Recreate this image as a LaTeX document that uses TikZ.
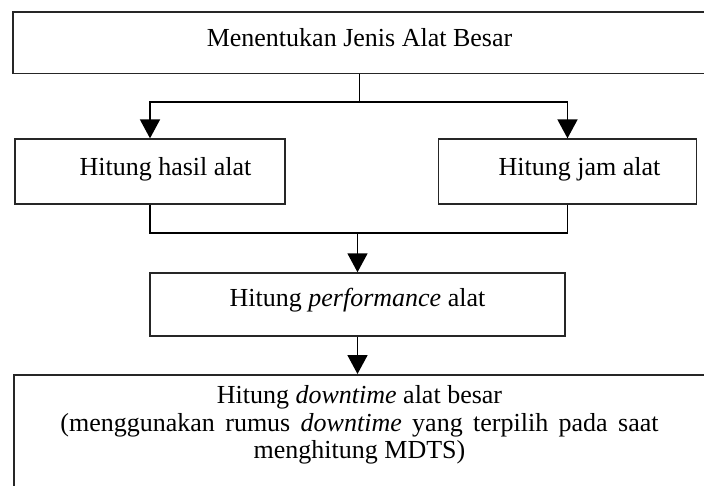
\documentclass[tikz,border=0pt]{standalone}
\usepackage{fontspec}
\setmainfont{Liberation Serif}
\usetikzlibrary{arrows.meta}
\begin{document}
\begin{tikzpicture}[x=1pt,y=-1pt,
  box/.style={draw=black!85, line width=1.3pt, rectangle, inner sep=0pt,
    font=\fontsize{26}{27.5}\selectfont, text height=17.5pt},
  conn/.style={draw=black, line width=1.8pt},
  arr/.style={conn, -{Triangle[width=20pt,length=19pt]}}]
\clip (0,0) rectangle (704,485);
\fill[white] (0,0) rectangle (704,485);
% boxes
\node[box, minimum width=693, minimum height=61.5, text depth=11pt] (top) at (359.5,42.75) {Menentukan Jenis Alat Besar};
\node[box, minimum width=270, minimum height=65, text depth=10.5pt] (hasil) at (150,171.5) {\hspace*{31pt}Hitung hasil alat};
\node[box, minimum width=257.5, minimum height=65, text depth=10.5pt] (jam) at (567.5,171.5) {\hspace*{24pt}Hitung jam alat};
\node[box, line width=1.5pt, minimum width=415, minimum height=63, text depth=14.5pt] (perf) at (357.5,304.5) {Hitung \textit{performance} alat};
\node[box, line width=1.5pt, anchor=north west, minimum width=693, minimum height=130, text height=0pt] (dt) at (13,374) {};
\node[anchor=north, inner sep=0pt, align=center, font=\fontsize{26}{27.5}\selectfont] (dttext) at (359.5,385.5)
  {Hitung \textit{downtime} alat besar\\{\spaceskip=10.4pt\relax(menggunakan rumus \textit{downtime} yang terpilih pada saat}\\menghitung MDTS)};
% connectors
\draw[arr] (top.south) -- ++(0,27.5) -| (hasil.north);
\draw[arr] (top.south) -- ++(0,27.5) -| (jam.north);
\path (perf.north) ++(0,-39.5) coordinate (join);
\draw[conn] (hasil.south) |- (join);
\draw[conn] (jam.south) |- (join);
\draw[arr] (join) -- (perf.north);
\draw[arr] (perf.south) -- (perf.south |- dt.north);
\end{tikzpicture}
\end{document}
